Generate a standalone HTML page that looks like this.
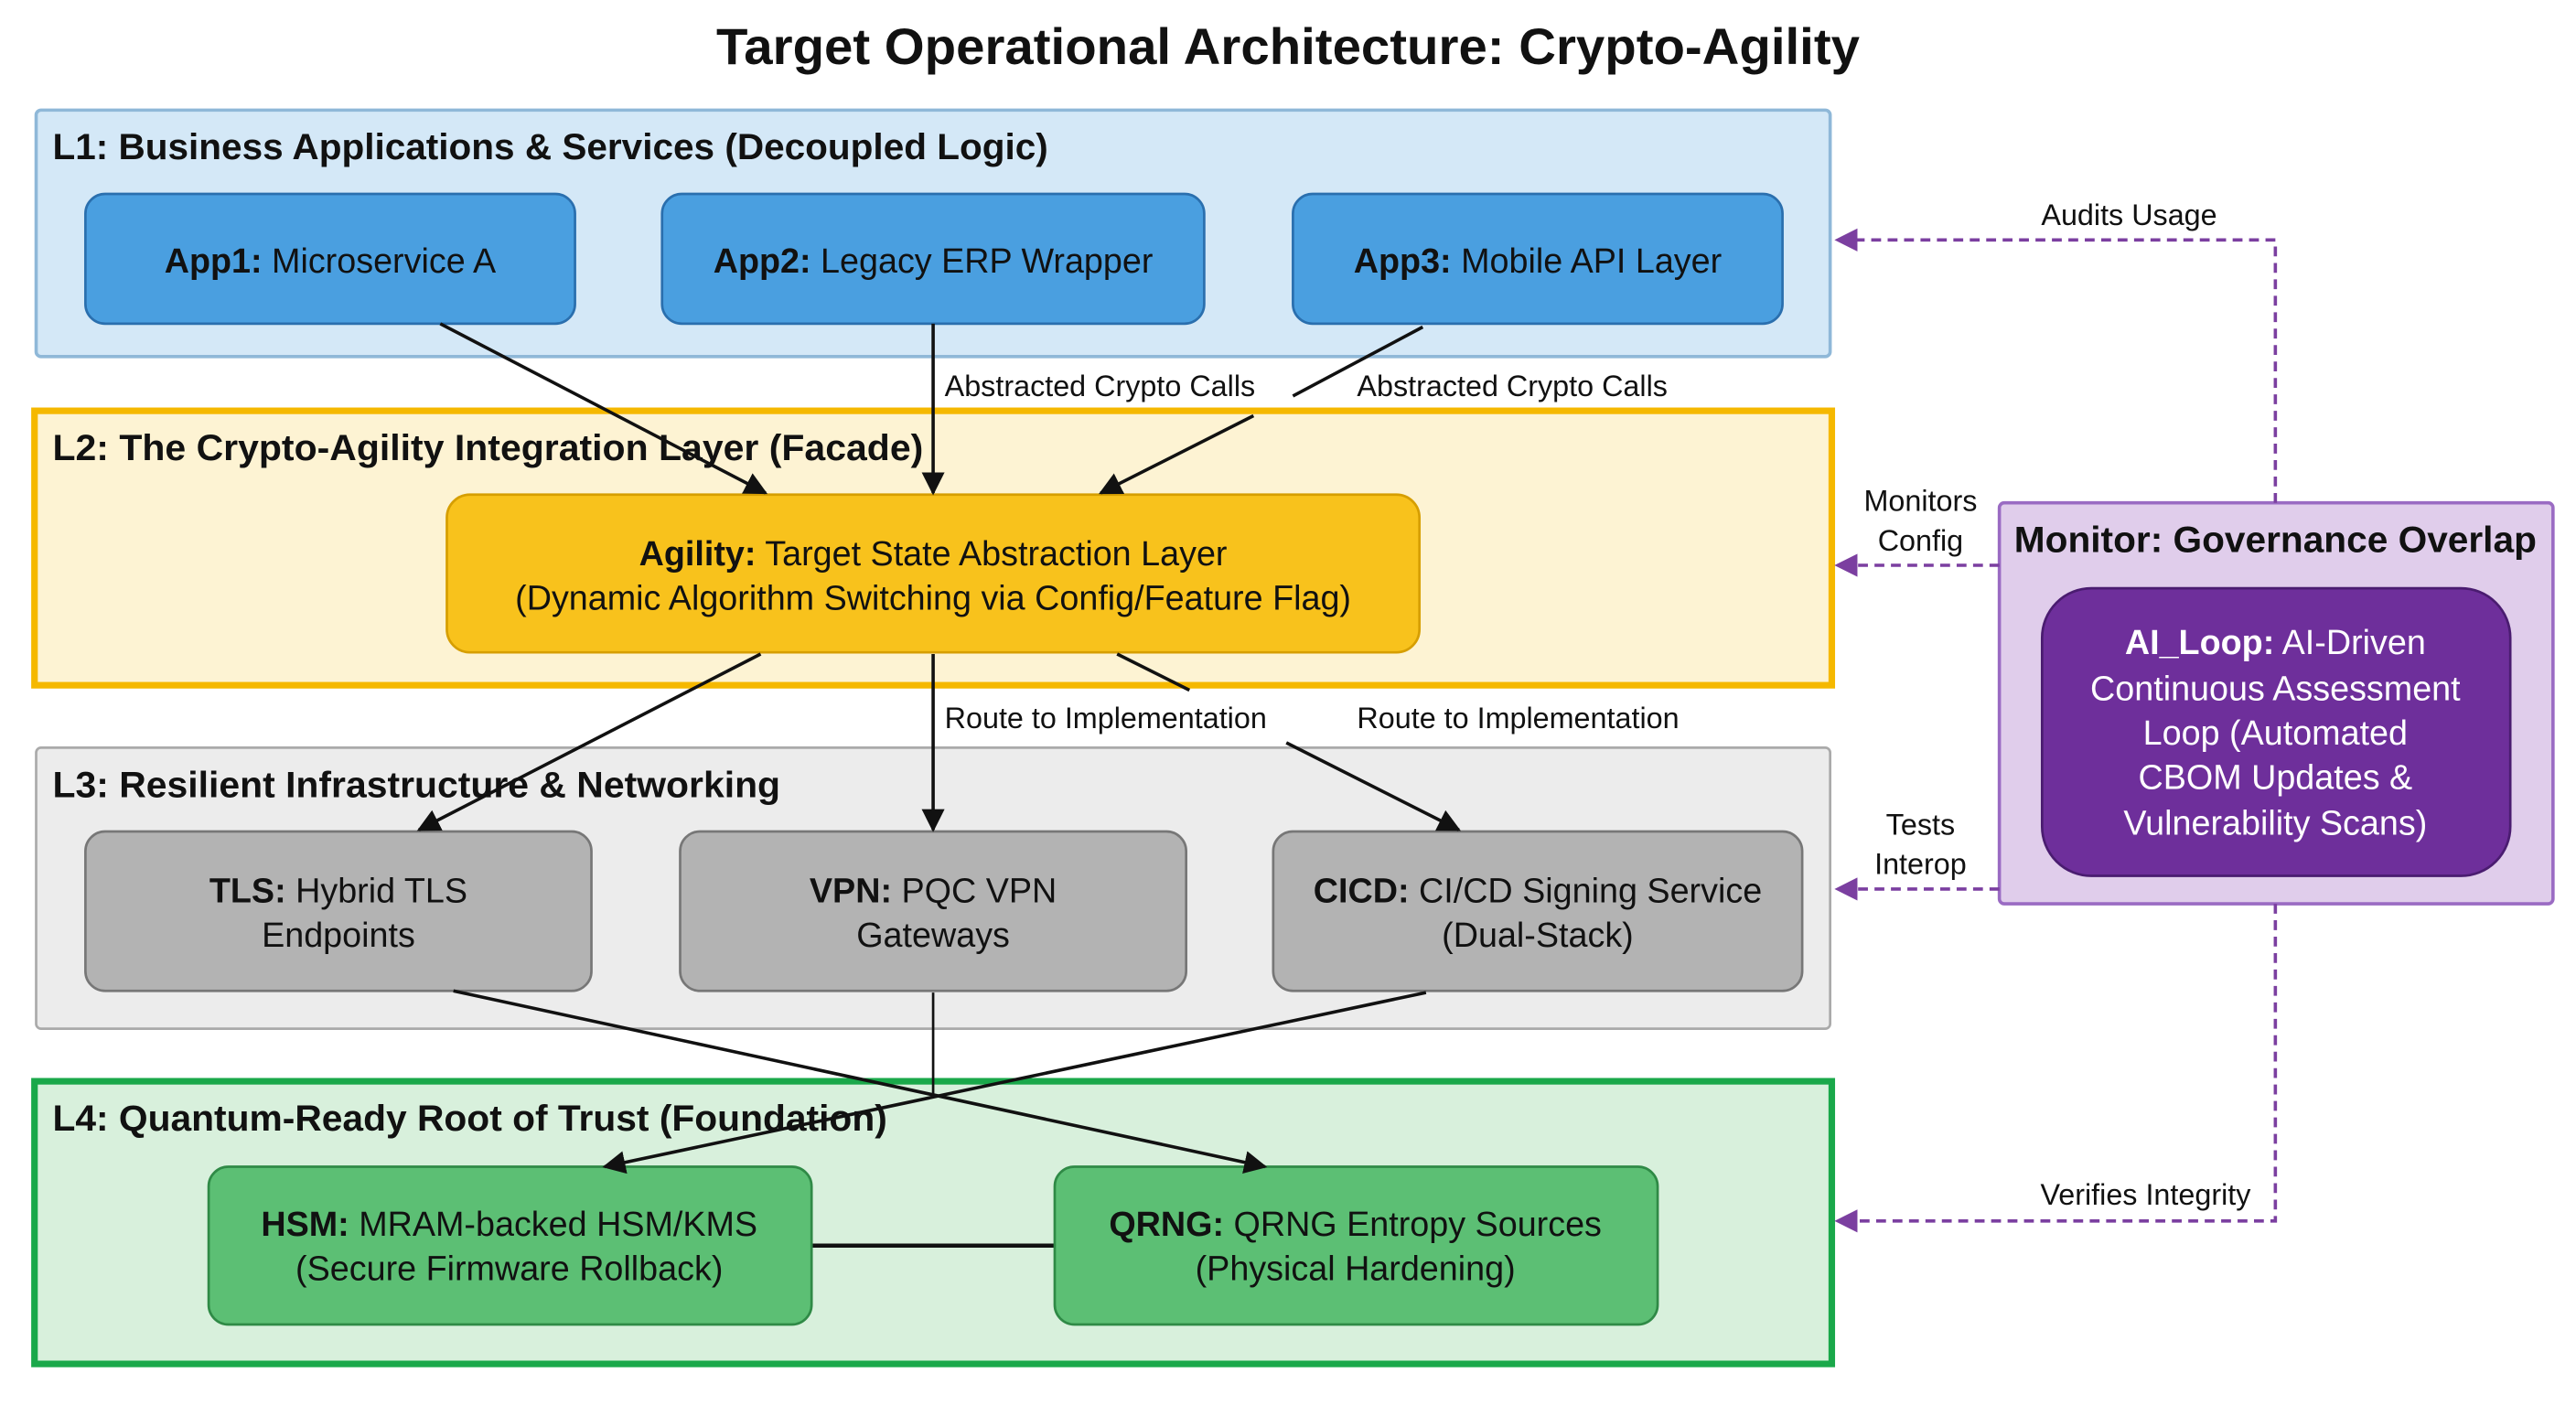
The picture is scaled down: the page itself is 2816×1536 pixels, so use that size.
<!DOCTYPE html>
<html><head><meta charset="utf-8"><style>html,body{margin:0;padding:0;background:#fff}svg{display:block}</style></head><body>
<svg width="2816" height="1536" viewBox="0 0 1568 855" preserveAspectRatio="none" xmlns="http://www.w3.org/2000/svg" font-family="Liberation Sans, Arial, sans-serif">
<defs>
<marker id="ab" viewBox="0 0 10 10" refX="9" refY="5" markerWidth="7" markerHeight="7" orient="auto"><path d="M0,0 L10,5 L0,10 z" fill="#111"/></marker>
<marker id="ap" viewBox="0 0 10 10" refX="9" refY="5" markerWidth="7" markerHeight="7" orient="auto"><path d="M0,0 L10,5 L0,10 z" fill="#7b3fa0"/></marker>
</defs>
<rect width="1568" height="855" fill="#fff"/>
<text x="784" y="39" text-anchor="middle" font-size="31" font-weight="bold" fill="#111" textLength="696" lengthAdjust="spacingAndGlyphs">Target Operational Architecture: Crypto-Agility</text>

<!-- L1 -->
<rect x="22" y="67" width="1092" height="150" rx="3" fill="#d4e8f7" stroke="#8fb8d8" stroke-width="2"/>
<text x="32" y="97" font-size="22" font-weight="bold" fill="#111" textLength="606" lengthAdjust="spacingAndGlyphs">L1: Business Applications &amp; Services (Decoupled Logic)</text>
<g stroke="#2a6fae" stroke-width="1.5" fill="#4a9fe0">
<rect x="52" y="118" width="298" height="79" rx="12"/>
<rect x="403" y="118" width="330" height="79" rx="12"/>
<rect x="787" y="118" width="298" height="79" rx="12"/>
</g>
<g font-size="21" fill="#111" text-anchor="middle">
<text x="201" y="166"><tspan font-weight="bold">App1:</tspan> Microservice A</text>
<text x="568" y="166"><tspan font-weight="bold">App2:</tspan> Legacy ERP Wrapper</text>
<text x="936" y="166"><tspan font-weight="bold">App3:</tspan> Mobile API Layer</text>
</g>

<!-- L2 -->
<rect x="21" y="250" width="1094" height="167" fill="#fdf3d3" stroke="#f5b800" stroke-width="4"/>
<text x="32" y="280" font-size="22" font-weight="bold" fill="#111" textLength="530" lengthAdjust="spacingAndGlyphs">L2: The Crypto-Agility Integration Layer (Facade)</text>
<rect x="272" y="301" width="592" height="96" rx="14" fill="#f8c21c" stroke="#d69e00" stroke-width="1.5"/>
<g font-size="21" fill="#111" text-anchor="middle">
<text x="568" y="344"><tspan font-weight="bold">Agility:</tspan> Target State Abstraction Layer</text>
<text x="568" y="371">(Dynamic Algorithm Switching via Config/Feature Flag)</text>
</g>

<!-- L3 -->
<rect x="22" y="455" width="1092" height="171" rx="3" fill="#ececec" stroke="#aaa" stroke-width="1.5"/>
<text x="32" y="485" font-size="22" font-weight="bold" fill="#111" textLength="443" lengthAdjust="spacingAndGlyphs">L3: Resilient Infrastructure &amp; Networking</text>
<g stroke="#777" stroke-width="1.5" fill="#b3b3b3">
<rect x="52" y="506" width="308" height="97" rx="12"/>
<rect x="414" y="506" width="308" height="97" rx="12"/>
<rect x="775" y="506" width="322" height="97" rx="12"/>
</g>
<g font-size="21" fill="#111" text-anchor="middle">
<text x="206" y="549"><tspan font-weight="bold">TLS:</tspan> Hybrid TLS</text>
<text x="206" y="576">Endpoints</text>
<text x="568" y="549"><tspan font-weight="bold">VPN:</tspan> PQC VPN</text>
<text x="568" y="576">Gateways</text>
<text x="936" y="549"><tspan font-weight="bold">CICD:</tspan> CI/CD Signing Service</text>
<text x="936" y="576">(Dual-Stack)</text>
</g>

<!-- L4 -->
<rect x="21" y="658" width="1094" height="172" fill="#d8f0dc" stroke="#1aa84a" stroke-width="4"/>
<text x="32" y="688" font-size="22" font-weight="bold" fill="#111" textLength="508" lengthAdjust="spacingAndGlyphs">L4: Quantum-Ready Root of Trust (Foundation)</text>
<line x1="494" y1="758" x2="642" y2="758" stroke="#111" stroke-width="2.5"/>
<g stroke="#2f8a46" stroke-width="1.5" fill="#5cbf74">
<rect x="127" y="710" width="367" height="96" rx="12"/>
<rect x="642" y="710" width="367" height="96" rx="12"/>
</g>
<g font-size="21" fill="#111" text-anchor="middle">
<text x="310" y="752"><tspan font-weight="bold">HSM:</tspan> MRAM-backed HSM/KMS</text>
<text x="310" y="779">(Secure Firmware Rollback)</text>
<text x="825" y="752"><tspan font-weight="bold">QRNG:</tspan>  QRNG Entropy Sources</text>
<text x="825" y="779">(Physical Hardening)</text>
</g>

<!-- Monitor -->
<rect x="1217" y="306" width="337" height="244" rx="3" fill="#e0cdeb" stroke="#9a6bc3" stroke-width="2"/>
<text x="1385" y="336" text-anchor="middle" font-size="22" font-weight="bold" fill="#111" textLength="318" lengthAdjust="spacingAndGlyphs">Monitor: Governance Overlap</text>
<rect x="1243" y="358" width="285" height="175" rx="30" fill="#6e2f9b" stroke="#4a1c70" stroke-width="1.5"/>
<g font-size="21" fill="#fff" text-anchor="middle">
<text x="1385" y="398"><tspan font-weight="bold">AI_Loop:</tspan> AI-Driven</text>
<text x="1385" y="426">Continuous Assessment</text>
<text x="1385" y="453">Loop (Automated</text>
<text x="1385" y="480">CBOM Updates &amp;</text>
<text x="1385" y="508">Vulnerability Scans)</text>
</g>

<!-- black connectors -->
<g stroke="#111" stroke-width="2" fill="none">
<line x1="268" y1="197" x2="466" y2="300" marker-end="url(#ab)"/>
<line x1="568" y1="197" x2="568" y2="300" marker-end="url(#ab)"/>
<line x1="866" y1="199" x2="787" y2="241"/>
<line x1="763" y1="253" x2="670" y2="300" marker-end="url(#ab)"/>
<line x1="463" y1="398" x2="255" y2="505" marker-end="url(#ab)"/>
<line x1="568" y1="398" x2="568" y2="505" marker-end="url(#ab)"/>
<line x1="680" y1="398" x2="724" y2="420"/>
<line x1="783" y1="452" x2="888" y2="505" marker-end="url(#ab)"/>
<line x1="276" y1="603" x2="770" y2="710" marker-end="url(#ab)"/>
<line x1="868" y1="604" x2="368" y2="710" marker-end="url(#ab)"/>
<line x1="568" y1="604" x2="568" y2="666" stroke-width="1.5"/>
</g>
<g font-size="18" fill="#111">
<text x="575" y="241">Abstracted Crypto Calls</text>
<text x="826" y="241">Abstracted Crypto Calls</text>
<text x="575" y="443">Route to Implementation</text>
<text x="826" y="443">Route to Implementation</text>
</g>

<!-- purple dashed -->
<g stroke="#7b3fa0" stroke-width="2" stroke-dasharray="6,4" fill="none">
<polyline points="1385,306 1385,146 1118,146" marker-end="url(#ap)"/>
<line x1="1217" y1="344" x2="1118" y2="344" marker-end="url(#ap)"/>
<line x1="1217" y1="541" x2="1118" y2="541" marker-end="url(#ap)"/>
<polyline points="1385,550 1385,743 1118,743" marker-end="url(#ap)"/>
</g>
<g font-size="18" fill="#111" text-anchor="middle">
<text x="1296" y="137">Audits Usage</text>
<text x="1169" y="311">Monitors</text>
<text x="1169" y="335">Config</text>
<text x="1169" y="508">Tests</text>
<text x="1169" y="532">Interop</text>
<text x="1306" y="733">Verifies Integrity</text>
</g>
</svg>
</body></html>
